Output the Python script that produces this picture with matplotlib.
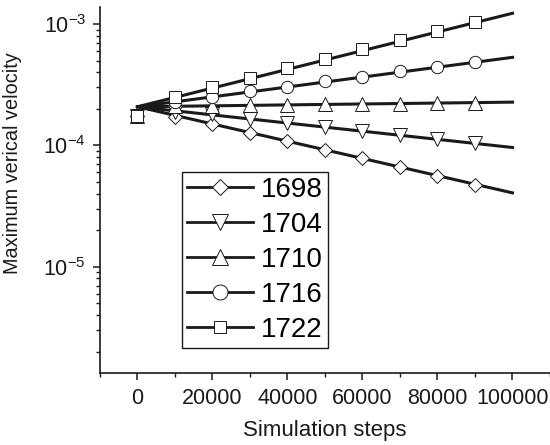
import matplotlib
matplotlib.use("Agg")
import matplotlib.pyplot as plt
from matplotlib.ticker import MultipleLocator, LogLocator, NullFormatter

plt.rcParams['font.family'] = ['Liberation Sans', 'DejaVu Sans']
plt.rcParams['mathtext.fontset'] = 'custom'
plt.rcParams['mathtext.rm'] = 'Liberation Sans'
plt.rcParams['mathtext.it'] = 'Liberation Sans'

# simulation steps where the markers sit
steps = [0, 10000, 20000, 30000, 40000, 50000, 60000, 70000, 80000, 90000]

# maximum vertical velocity
v1698 = [1.74e-4, 1.70e-4, 1.50e-4, 1.27e-4, 1.08e-4, 9.2e-5, 7.8e-5, 6.6e-5, 5.6e-5, 4.71e-5]
v1704 = [1.74e-4, 1.90e-4, 1.80e-4, 1.64e-4, 1.52e-4, 1.41e-4, 1.31e-4, 1.21e-4, 1.12e-4, 1.04e-4]
v1710 = [1.74e-4, 2.10e-4, 2.12e-4, 2.14e-4, 2.16e-4, 2.18e-4, 2.20e-4, 2.21e-4, 2.22e-4, 2.24e-4]
v1716 = [1.74e-4, 2.29e-4, 2.52e-4, 2.80e-4, 3.04e-4, 3.39e-4, 3.68e-4, 4.12e-4, 4.45e-4, 4.89e-4]
v1722 = [1.74e-4, 2.52e-4, 3.01e-4, 3.60e-4, 4.31e-4, 5.14e-4, 6.18e-4, 7.34e-4, 8.75e-4, 1.03e-3]

# exponential fit lines: value at step 0 and at step 100000
fit_steps = [0, 100000]
fit1698 = [2.08e-4, 4.06e-5]
fit1704 = [2.08e-4, 9.6e-5]
fit1710 = [2.08e-4, 2.27e-4]
fit1716 = [2.08e-4, 5.31e-4]
fit1722 = [2.08e-4, 1.225e-3]

labels = ['1698', '1704', '1710', '1716', '1722']
markers = ['D', 'v', '^', 'o', 's']
sizes = [6.8, 9.6, 9.6, 8.9, 8.4]
leg_sizes = [8.5, 12, 12, 10.8, 9.1]
data = [v1698, v1704, v1710, v1716, v1722]
fits = [fit1698, fit1704, fit1710, fit1716, fit1722]

fig = plt.figure(figsize=(5.5, 4.45), dpi=100)
ax = fig.add_axes([0.1818, 0.1625, 0.8182, 0.8218])

ink = '#1a1a1a'
handles = []
for lab, mk, ms, lms, vals, fit in zip(labels, markers, sizes, leg_sizes, data, fits):
    ax.plot(fit_steps, fit, color=ink, lw=2.2, zorder=2)
    ax.plot(steps, vals, ls='none', marker=mk, ms=ms, mfc='white',
            mec=ink, mew=0.7, zorder=3)
    h, = ax.plot([], [], color=ink, lw=2.0, marker=mk, ms=lms,
                 mfc='white', mec=ink, mew=0.7, label=lab)
    handles.append(h)

ax.set_yscale('log')
ax.set_xlim(-10000, 110000)
ax.set_ylim(1.34e-6, 1.38e-3)

ax.xaxis.set_major_locator(MultipleLocator(20000))
ax.xaxis.set_minor_locator(MultipleLocator(10000))
ax.yaxis.set_minor_locator(LogLocator(base=10, subs=range(2, 10)))
ax.yaxis.set_minor_formatter(NullFormatter())
ax.set_yticks([1e-5, 1e-4, 1e-3])
ax.set_yticklabels([r'$10^{-5}$', r'$10^{-4}$', r'$10^{-3}$'])

for s in ['top', 'right']:
    ax.spines[s].set_visible(False)
for s in ['left', 'bottom']:
    ax.spines[s].set_linewidth(1.2)
    ax.spines[s].set_color(ink)

ax.tick_params(which='major', direction='out', length=5, width=1.1,
               labelsize=15.5, colors=ink, pad=6)
ax.tick_params(axis='y', which='major', pad=5)
ax.tick_params(which='minor', direction='out', length=3, width=1.0, colors=ink)

ax.set_xlabel('Simulation steps', fontsize=16, color=ink, labelpad=8)
ax.set_ylabel('Maximum verical velocity', fontsize=14.3, color=ink)
ax.yaxis.set_label_coords(-0.174, 0.573)

leg = ax.legend(handles=handles, loc='lower left', bbox_to_anchor=(0.1816, 0.0667),
                borderaxespad=0, fontsize=20, handlelength=2.35, handletextpad=0.3,
                labelspacing=0.32, borderpad=0.2, fancybox=False, framealpha=1,
                edgecolor=ink)
leg.get_frame().set_linewidth(1.0)

fig.savefig('out.png', dpi=100)
